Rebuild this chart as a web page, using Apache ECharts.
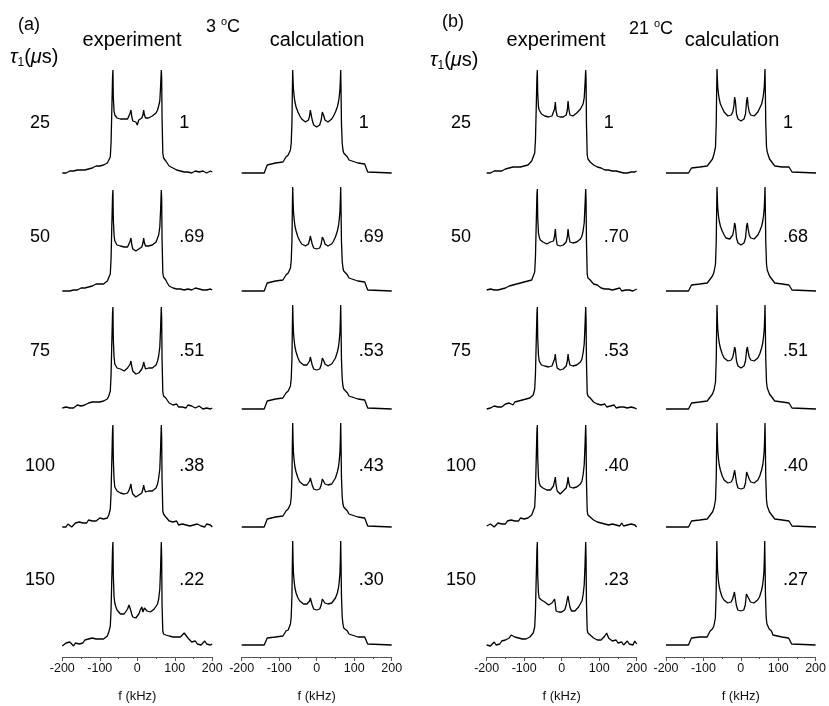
<!DOCTYPE html>
<html>
<head>
<meta charset="utf-8">
<script src="https://cdn.jsdelivr.net/npm/echarts@6/dist/echarts.min.js"></script>
<style>
  html, body { margin: 0; padding: 0; background: #fff; }
  #chart { width: 829px; height: 706px; }
</style>
</head>
<body>
<div id="chart"></div>
<script>
// Frequency grids (kHz)
const freqExp = [-200,-195,-190,-185,-180,-175,-170,-165,-160,-155,-150,-145,-140,-135,-130,-125,-120,-115,-110,-105,-100,-95,-90,-85,-80,
  -76,-72,-70,-68,-66,-65,-64,-62,-60,-57,-54,-50,-45,-40,-35,-30,-26,-22,-19,-17,-15,-12,-8,-4,
  0,
  4,8,12,15,17,19,22,26,30,35,40,45,50,54,57,60,62,64,65,66,68,70,72,76,
  80,85,90,95,100,105,110,115,120,125,130,135,140,145,150,155,160,165,170,175,180,185,190,195,200];

const freqCalc = [-200,-140,-136,-132,-128,-110,-90,-86,-82,-76,-72,-70,-68,-66,-65,-64,-63,-62,-60,-58,-55,-50,-45,-40,-35,-30,-26,-22,-19,-17,-15,-12,-8,-4,
  0,
  4,8,12,15,17,19,22,26,30,35,40,45,50,55,58,60,62,63,64,65,66,68,70,72,76,82,86,90,110,128,132,136,140,200];

// Row delays and intensity ratios
const delays = ['25', '50', '75', '100', '150'];
const ratiosExp3 = ['1', '.69', '.51', '.38', '.22'];
const ratiosCalc3 = ['1', '.69', '.53', '.43', '.30'];
const ratiosExp21 = ['1', '.70', '.53', '.40', '.23'];
const ratiosCalc21 = ['1', '.68', '.51', '.40', '.27'];
const tickValues = [-200, -100, 0, 100, 200];

// Experimental spectra, 3 °C
const exp3_25 = [0,1,0,1,2,1,2,1,3,2,3,4,3,5,4,5,5,6,7,6,7,8,8,9,10,
  12,16,30,62,96,103,76,62,58,56,55,55,54,53,54,53,54,55,60,63,57,52,54,51,
  48,
  53,51,55,58,63,58,55,54,55,56,57,58,60,63,67,72,86,103,95,55,20,15,13,12,
  10,7,6,5,4,3,3,2,3,1,2,1,2,0,1,2,0,1,0,2,1,0,1,2,1];
const exp3_50 = [0,1,0,1,0,2,1,2,1,3,3,4,3,5,4,6,5,6,7,6,7,8,7,9,10,
  12,17,32,65,95,101,72,56,50,48,46,45,45,44,44,45,44,46,50,53,47,42,44,40,
  38,
  42,40,44,48,53,48,45,44,45,44,46,47,49,51,56,64,80,101,92,52,18,14,12,11,
  8,5,4,3,4,2,3,2,4,1,3,2,4,1,2,3,1,2,0,1,3,1,0,2,1];
const exp3_75 = [1,0,2,0,1,3,1,2,4,2,3,5,4,5,6,5,7,6,7,8,7,9,8,10,10,
  13,18,34,66,96,102,70,52,45,43,41,40,40,39,38,40,41,42,45,48,43,38,39,35,
  34,
  36,38,40,43,47,44,40,39,41,40,41,43,44,48,53,62,80,102,90,50,17,13,12,11,
  9,6,5,4,3,5,2,4,2,3,1,4,2,3,4,1,2,3,1,0,2,1,3,0,1];
const exp3_100 = [0,2,0,3,1,0,2,4,2,5,3,4,6,4,7,5,6,8,6,7,9,7,8,10,9,
  12,18,34,66,97,102,68,48,40,38,36,35,34,35,33,35,34,37,40,43,37,33,34,30,
  29,
  32,30,34,38,42,38,35,33,36,34,36,38,39,43,49,58,78,102,88,48,16,13,11,10,
  9,6,4,5,3,6,2,4,3,5,2,4,1,3,2,0,3,4,1,2,0,3,1,2,0];
const exp3_150 = [-1,1,2,0,3,1,-1,2,4,1,3,2,5,4,6,8,7,5,6,7,6,7,6,7,9,
  13,19,35,67,96,103,70,48,42,38,35,33,31,30,31,33,36,40,38,34,31,28,30,27,
  29,
  31,35,38,33,35,37,38,34,32,33,34,36,38,41,46,56,76,103,86,40,14,11,10,10,
  8,9,7,8,10,8,6,8,9,12,10,7,5,3,2,4,1,3,0,2,4,1,2,0,1];

// Calculated spectra, 3 °C
const calc3_25 = [0,0,1,8,9,10,11,13,16,18,20,23,30,50,80,103,92,84,76,71,66,61,57,54,52,51,51,53,57,63,61,53,48,46,
  46,
  46,48,53,61,63,57,53,51,51,52,54,57,61,66,71,76,84,92,103,80,50,30,23,20,18,16,13,11,10,9,8,1,0,0];
const calc3_50 = [0,0,1,8,9,10,11,13,16,18,20,23,30,50,80,104,90,80,71,65,60,54,50,47,46,45,46,47,51,55,54,47,43,42,
  42,
  42,43,47,54,55,51,47,46,45,46,47,50,54,60,65,71,80,90,104,80,50,30,23,20,18,16,13,11,10,9,8,1,0,0];
const calc3_75 = [0,0,1,8,9,10,11,13,16,18,20,23,30,50,80,104,88,77,68,62,57,51,47,45,44,43,44,45,48,52,51,44,40,39,
  39,
  39,40,44,51,52,48,45,44,43,44,45,47,51,57,62,68,77,88,104,80,50,30,23,20,18,16,13,11,10,9,8,1,0,0];
const calc3_100 = [0,0,1,8,9,10,11,13,16,18,20,23,30,50,80,104,86,75,66,60,55,49,45,43,42,42,42,43,46,49,48,42,38,37,
  37,
  37,38,42,48,49,46,43,42,42,42,43,45,49,55,60,66,75,86,104,80,50,30,23,20,18,16,13,11,10,9,8,1,0,0];
const calc3_150 = [0,0,1,7,8,8,9,11,14,15,17,21,28,50,80,104,84,72,63,57,52,47,44,42,41,41,41,42,44,47,46,40,36,35,
  35,
  35,36,40,46,47,44,42,41,41,41,42,44,47,52,57,63,72,84,104,80,50,28,21,17,15,14,11,9,8,8,7,1,0,0];

// Experimental spectra, 21 °C
const exp21_25 = [0,1,0,1,2,1,2,3,2,3,4,3,5,4,6,5,6,7,6,8,7,8,8,10,12,
  16,20,33,64,96,103,80,66,63,61,59,58,57,57,56,57,57,59,64,71,62,57,57,56,
  56,
  56,57,58,63,72,64,58,57,57,58,60,62,64,66,69,75,88,103,94,50,18,14,12,11,
  10,8,7,6,6,5,4,3,2,3,1,2,1,2,0,1,2,0,1,0,2,1,0,1,2];
const exp21_50 = [1,0,2,0,1,2,1,3,2,4,3,4,5,4,6,5,7,6,8,7,9,8,10,9,11,
  13,19,34,66,97,102,74,58,54,51,50,49,48,47,48,49,48,50,55,62,53,46,47,45,
  44,
  46,45,49,54,62,55,49,47,48,47,49,50,52,55,60,68,84,102,91,50,17,13,12,11,
  9,7,5,6,4,3,4,2,3,2,4,1,3,2,1,3,0,2,1,3,1,2,0,1,2];
const exp21_75 = [0,2,1,0,3,1,2,4,2,3,5,4,6,5,4,7,6,8,7,9,8,10,9,11,10,
  14,20,35,66,96,102,72,54,48,46,44,43,43,42,42,43,43,45,50,55,47,41,42,39,
  38,
  40,41,43,48,55,49,44,42,43,42,44,45,47,50,56,65,82,102,89,48,16,13,12,11,
  10,7,6,5,7,4,3,5,2,4,3,2,4,1,3,2,1,2,4,1,0,2,3,1,0];
const exp21_100 = [1,0,3,1,0,2,4,2,3,5,3,6,4,7,5,6,8,6,9,7,8,10,9,11,12,
  14,20,36,67,97,102,70,50,44,41,40,39,38,37,38,37,39,41,46,50,42,36,37,33,
  34,
  36,35,39,44,50,44,40,38,39,38,40,41,43,46,52,62,80,102,87,46,16,12,11,10,
  10,7,8,5,6,4,6,3,5,2,4,3,5,2,3,1,4,1,3,2,0,3,1,2,0];
const exp21_150 = [0,2,-1,1,3,0,2,1,4,3,5,4,7,10,11,8,6,7,5,6,7,6,7,8,9,
  12,18,34,66,96,103,70,52,47,46,45,44,43,41,40,38,42,44,46,41,34,32,33,31,
  33,
  32,35,40,46,49,44,38,34,35,34,36,38,40,44,50,60,78,103,86,42,15,12,11,10,
  9,7,6,5,6,5,7,9,12,7,5,4,3,5,2,1,3,0,2,4,1,3,0,4,1];

// Calculated spectra, 21 °C
const calc21_25 = [0,0,1,5,6,6,7,9,11,14,19,21,26,50,80,104,94,86,79,74,69,65,61,59,57,57,58,61,67,76,72,59,54,52,
  52,
  52,54,59,72,76,67,61,58,57,57,59,61,65,69,74,79,86,94,104,80,50,26,21,19,14,11,9,7,6,6,5,1,0,0];
const calc21_50 = [0,0,1,6,6,7,8,10,12,15,19,21,27,50,80,104,92,83,75,70,65,60,56,53,52,52,53,56,62,68,65,53,48,46,
  46,
  46,48,53,65,68,62,56,53,52,52,53,56,60,65,70,75,83,92,104,80,50,27,21,19,15,12,10,8,7,6,6,1,0,0];
const calc21_75 = [0,0,1,6,6,7,8,10,12,15,19,21,27,50,80,104,90,80,72,66,61,55,51,49,48,48,49,52,57,62,59,48,43,41,
  41,
  41,43,48,59,62,57,52,49,48,48,49,51,55,61,66,72,80,90,104,80,50,27,21,19,15,12,10,8,7,6,6,1,0,0];
const calc21_100 = [0,0,1,6,6,7,8,10,12,15,19,21,27,50,80,104,88,77,68,62,57,51,47,45,44,44,45,48,53,57,55,44,39,38,
  38,
  38,39,44,55,57,53,48,45,44,44,45,47,51,57,62,68,77,88,104,80,50,27,21,19,15,12,10,8,7,6,6,1,0,0];
const calc21_150 = [0,0,1,7,7,8,8,10,14,16,19,21,27,50,80,104,86,74,65,59,54,48,45,43,42,42,43,46,50,53,51,40,35,34,
  34,
  34,35,40,51,53,50,46,43,42,42,43,45,48,54,59,65,74,86,104,80,50,27,21,19,16,14,10,8,8,7,7,1,0,0];

// ---- layout ----
const FONT = '"Liberation Sans", Arial, sans-serif';
const columns = [
  { left: 62.3, freq: freqExp,  rows: [exp3_25, exp3_50, exp3_75, exp3_100, exp3_150], ratios: ratiosExp3 },
  { left: 241.7, freq: freqCalc, rows: [calc3_25, calc3_50, calc3_75, calc3_100, calc3_150], ratios: ratiosCalc3 },
  { left: 486.7, freq: freqExp,  rows: [exp21_25, exp21_50, exp21_75, exp21_100, exp21_150], ratios: ratiosExp21 },
  { left: 666, freq: freqCalc, rows: [calc21_25, calc21_50, calc21_75, calc21_100, calc21_150], ratios: ratiosCalc21 }
];
const colWidth = 150;
const baselines = [173, 291, 409, 527, 645];
const yMin = -10, yMax = 105, gridH = 115;
const labelY = [123, 237, 351, 466, 580];

const grids = [], xAxes = [], yAxes = [], series = [];
columns.forEach((col, c) => {
  col.rows.forEach((vals, r) => {
    const idx = grids.length;
    const top = baselines[r] - yMax;
    grids.push({ left: col.left, top: top, width: colWidth, height: gridH });
    const bottomRow = r === col.rows.length - 1;
    xAxes.push({
      gridIndex: idx, type: 'value', min: -200, max: 200, interval: 100,
      show: bottomRow,
      offset: 2,
      axisLine: { show: true, onZero: false, lineStyle: { color: '#555', width: 1 } },
      axisTick: { show: true, inside: false, length: 4, lineStyle: { color: '#555', width: 1 } },
      minorTick: { show: true, splitNumber: 2, length: 2, lineStyle: { color: '#555', width: 1 } },
      splitLine: { show: false },
      axisLabel: { show: true, fontSize: 12.5, color: '#111', margin: 5, fontFamily: FONT,
        customValues: tickValues },
      name: 'f (kHz)', nameLocation: 'middle', nameGap: 33,
      nameTextStyle: { fontSize: 13, color: '#111', fontFamily: FONT }
    });
    yAxes.push({ gridIndex: idx, type: 'value', min: yMin, max: yMax, show: false, splitLine: { show: false } });
    series.push({
      type: 'line', xAxisIndex: idx, yAxisIndex: idx,
      data: col.freq.map((f, i) => [f, vals[i]]),
      showSymbol: false, symbol: 'none', clip: false,
      lineStyle: { color: '#000', width: 1.3 },
      animation: false
    });
  });
});

const graphic = [];
function txt(x, y, text, size, align, extra) {
  graphic.push({
    type: 'text', x: x, y: y, silent: true,
    style: Object.assign({ text: text, fontSize: size, fontFamily: FONT, fill: '#000',
      align: align || 'center', verticalAlign: 'middle' }, extra || {})
  });
}
// row delay labels and ratio labels
delays.forEach((d, r) => {
  txt(40, labelY[r], d, 18, 'center');
  txt(461, labelY[r], d, 18, 'center');
});
columns.forEach((col, c) => {
  col.ratios.forEach((v, r) => txt(col.left + 117, labelY[r], v, 18, 'left'));
});
// column headings
txt(29, 25, '(a)', 18);
txt(453, 22, '(b)', 18);
txt(132, 40, 'experiment', 20);
txt(317, 40, 'calculation', 20);
txt(556, 40, 'experiment', 20);
txt(732, 40, 'calculation', 20);
const degRich = {
  n: { fontSize: 18, lineHeight: 22, fontFamily: FONT },
  o: { fontSize: 11, lineHeight: 11, verticalAlign: 'top', fontFamily: FONT }
};
txt(223, 27, '{n|3 }{o|o}{n|C}', 18, 'center', { rich: degRich });
txt(651, 29, '{n|21 }{o|o}{n|C}', 18, 'center', { rich: degRich });
const tauRich = {
  t: { fontSize: 20, lineHeight: 24, fontStyle: 'italic', fontFamily: FONT },
  s: { fontSize: 12, lineHeight: 12, verticalAlign: 'bottom', fontFamily: FONT },
  n: { fontSize: 20, lineHeight: 24, fontFamily: FONT }
};
txt(10, 57, '{t|τ}{s|1}{n|(}{t|μ}{n|s)}', 20, 'left', { rich: tauRich });
txt(430, 60, '{t|τ}{s|1}{n|(}{t|μ}{n|s)}', 20, 'left', { rich: tauRich });

const chart = echarts.init(document.getElementById('chart'), null, { renderer: 'canvas' });
chart.setOption({
  backgroundColor: '#fff',
  animation: false,
  grid: grids, xAxis: xAxes, yAxis: yAxes, series: series,
  graphic: graphic
});
</script>
</body>
</html>
